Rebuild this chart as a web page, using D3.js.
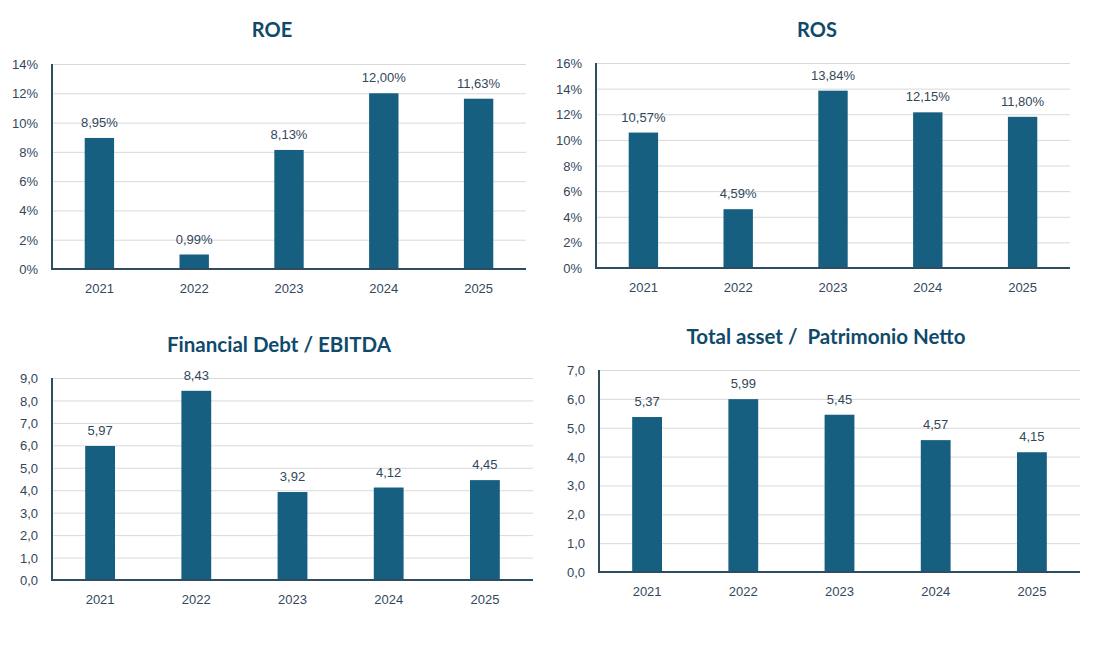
<!DOCTYPE html>
<html>
<head>
<meta charset="utf-8">
<script src="https://cdn.jsdelivr.net/npm/d3@7"></script>
<style>
body { margin: 0; background: #fff; }
svg text { font-family: "Liberation Sans", Arial, sans-serif; }
.title { font-family: "Lato", "Liberation Sans", sans-serif !important; font-weight: bold; fill: #0f4a6b; white-space: pre; }
.grid line { stroke: #d9d9d9; stroke-width: 1; }
.grid .domain { display: none; }
.grid text, .xaxis text, .vlabel { fill: #33475b; font-size: 13px; }
.xaxis .domain { display: none; }
.xaxis line { display: none; }
.frame { stroke: #2e4d61; stroke-width: 2; fill: none; }
.bar { fill: #175f80; }
</style>
</head>
<body>
<svg width="1100" height="646"></svg>
<script>
var years = ['2021', '2022', '2023', '2024', '2025'];
var roe = [8.95, 0.99, 8.13, 12.00, 11.63];
var ros = [10.57, 4.59, 13.84, 12.15, 11.80];
var debt_ebitda = [5.97, 8.43, 3.92, 4.12, 4.45];
var asset_equity = [5.37, 5.99, 5.45, 4.57, 4.15];
var titles = ['ROE', 'ROS', 'Financial Debt / EBITDA', 'Total asset /  Patrimonio Netto'];
var roe_ticks = [0, 2, 4, 6, 8, 10, 12, 14];
var ros_ticks = [0, 2, 4, 6, 8, 10, 12, 14, 16];
var debt_ticks = [0, 1, 2, 3, 4, 5, 6, 7, 8, 9];
var asset_ticks = [0, 1, 2, 3, 4, 5, 6, 7];

(function() {
    'use strict';

    var it = d3.formatLocale({decimal: ',', thousands: '.', grouping: [3], currency: ['', ' €']});
    var f2 = it.format('.2f');
    var f1 = it.format('.1f');

    // each panel: data, ticks, kind, and where it sits
    var panels = [
        {title: titles[0], values: roe, ticks: roe_ticks, pct: true,
         left: 52, right: 526, top: 64, bottom: 269, title_x: 272, title_y: 30, fs: 20},
        {title: titles[1], values: ros, ticks: ros_ticks, pct: true,
         left: 596, right: 1070, top: 63, bottom: 268, title_x: 817, title_y: 30, fs: 20},
        {title: titles[2], values: debt_ebitda, ticks: debt_ticks, pct: false,
         left: 52, right: 533, top: 378, bottom: 580, title_x: 279, title_y: 345, fs: 20.5},
        {title: titles[3], values: asset_equity, ticks: asset_ticks, pct: false,
         left: 599, right: 1080, top: 370, bottom: 572, title_x: 826, title_y: 337, fs: 20.5}
    ];

    var svg = d3.select('svg');

    panels.forEach(function(p) {
        var w = p.right - p.left;
        var h = p.bottom - p.top;
        var g = svg.append('g')
            .attr('transform', 'translate(' + p.left + ',' + p.top + ')');

        var x = d3.scaleBand()
            .domain(years)
            .range([0, w])
            .paddingInner(0.69)
            .paddingOuter(0.345);
        var y = d3.scaleLinear()
            .domain([0, d3.max(p.ticks)])
            .range([h, 0]);

        g.append('g')
            .attr('class', 'grid')
            .call(d3.axisLeft(y)
                .tickValues(p.ticks)
                .tickSize(-w)
                .tickPadding(14)
                .tickFormat(function(d) { return p.pct ? d + '%' : f1(d); }))
            .selectAll('text')
            .attr('dy', '0.35em');

        g.append('g')
            .attr('class', 'xaxis')
            .attr('transform', 'translate(0,' + h + ')')
            .call(d3.axisBottom(x).tickSize(0).tickPadding(15));

        g.selectAll('rect.bar')
            .data(p.values)
            .enter()
            .append('rect')
            .attr('class', 'bar')
            .attr('x', function(d, i) { return x(years[i]); })
            .attr('width', x.bandwidth())
            .attr('y', function(d) { return y(d); })
            .attr('height', function(d) { return h - y(d); });

        g.selectAll('text.vlabel')
            .data(p.values)
            .enter()
            .append('text')
            .attr('class', 'vlabel')
            .attr('text-anchor', 'middle')
            .attr('x', function(d, i) { return x(years[i]) + x.bandwidth() / 2; })
            .attr('y', function(d) { return y(d) - 11; })
            .text(function(d) { return p.pct ? f2(d) + '%' : f2(d); });

        g.append('path')
            .attr('class', 'frame')
            .attr('d', 'M0,0V' + h + 'H' + w);

        svg.append('text')
            .attr('class', 'title')
            .attr('x', p.title_x)
            .attr('y', p.title_y)
            .attr('dy', '0.35em')
            .attr('text-anchor', 'middle')
            .style('font-size', p.fs + 'px')
            .text(p.title);
    });
})();
</script>
</body>
</html>
